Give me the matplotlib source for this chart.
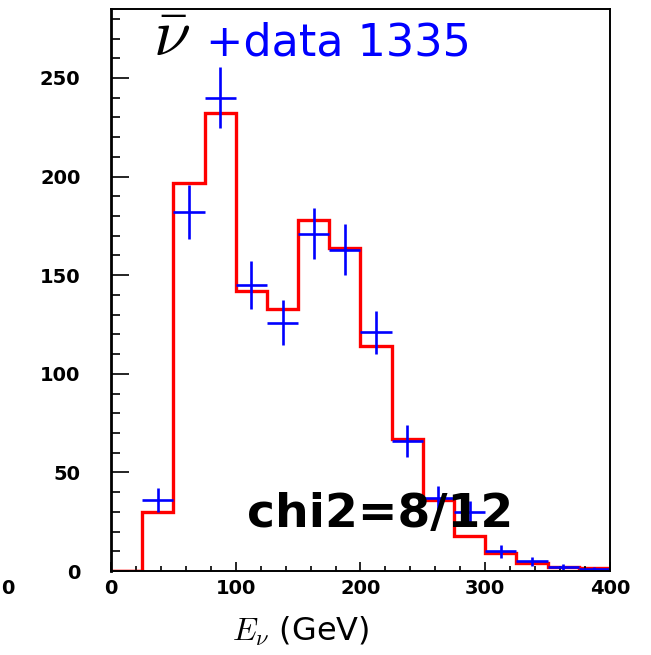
import numpy as np
import matplotlib
matplotlib.use("Agg")
import matplotlib.pyplot as plt
from matplotlib.ticker import MultipleLocator

# bin edges of the prediction histogram (GeV)
edges = [0, 25, 50, 75, 100, 125, 150, 175, 200, 225, 250, 275, 300, 325, 350, 375, 400]
# MC prediction (red histogram)
mc = [0, 30, 197, 232, 142, 133, 178, 164, 114, 67, 36, 18, 9, 4, 2, 1.4]

# data points (blue crosses)
e_data = [37.5, 62.5, 87.5, 112.5, 137.5, 162.5, 187.5, 212.5, 237.5, 262.5, 287.5, 312.5, 337.5, 362.5, 387.5]
n_data = [36, 182, 240, 145, 126, 171, 163, 121, 66, 37, 30, 10, 5, 2, 1]
n_err = [6, 13.5, 15.5, 12, 11.2, 13, 12.8, 11, 8.1, 6.1, 5.5, 3.2, 2.2, 1.4, 1]
half_bin = 12.5

plt.rcParams['mathtext.fontset'] = 'cm'

fig = plt.figure(figsize=(6.51, 6.55), dpi=100)
ax = fig.add_axes([0.1705, 0.1282, 0.7665, 0.8581])

# histogram drawn as steps
ax.stairs(mc, edges, color='#ff0000', linewidth=2.4, baseline=None)
ax.plot([edges[0], edges[1]], [mc[0], mc[0]], color='#ff0000', linewidth=2.4)

# data crosses
ax.errorbar(e_data, n_data, xerr=half_bin, yerr=n_err, fmt='none',
            ecolor='#0000ff', elinewidth=1.9, capsize=0)

ax.set_xlim(0, 400)
ax.set_ylim(0, 285)

ax.xaxis.set_major_locator(MultipleLocator(100))
ax.xaxis.set_minor_locator(MultipleLocator(20))
ax.yaxis.set_major_locator(MultipleLocator(50))
ax.yaxis.set_minor_locator(MultipleLocator(10))
ax.tick_params(axis='both', which='both', direction='in', top=False, right=False,
               width=1.2, color='black')
ax.tick_params(axis='y', which='major', length=13, pad=22)
ax.tick_params(axis='y', which='minor', length=6.5)
ax.tick_params(axis='x', which='major', length=6.5, pad=6)
ax.tick_params(axis='x', which='minor', length=3.5)

for lab in ax.get_xticklabels() + ax.get_yticklabels():
    lab.set_fontsize(14)
    lab.set_fontweight('bold')

for sp in ax.spines.values():
    sp.set_linewidth(1.4)
ax.spines['left'].set_linewidth(2)

ax.set_xlabel(r'$E_\nu$ (GeV)', fontsize=23, va='center')
ax.xaxis.set_label_coords(0.38, -0.108)

# title-like annotation inside the frame
ax.text(0.085, 0.917, r'$\bar{\nu}$', transform=ax.transAxes, fontsize=48,
        color='black', ha='left', va='baseline')
ax.text(0.19, 0.917, '+data 1335', transform=ax.transAxes, fontsize=32,
        color='#0000ff', ha='left', va='baseline')

ax.text(0.539, 0.10, 'chi2=8/12', transform=ax.transAxes, fontsize=34,
        color='black', ha='center', va='center', fontweight='bold')

# label from the neighbouring panel at the left edge
fig.text(0.001, 0.101, '0', fontsize=14, fontweight='bold', ha='left', va='center')

fig.savefig('out.png', dpi=100)
